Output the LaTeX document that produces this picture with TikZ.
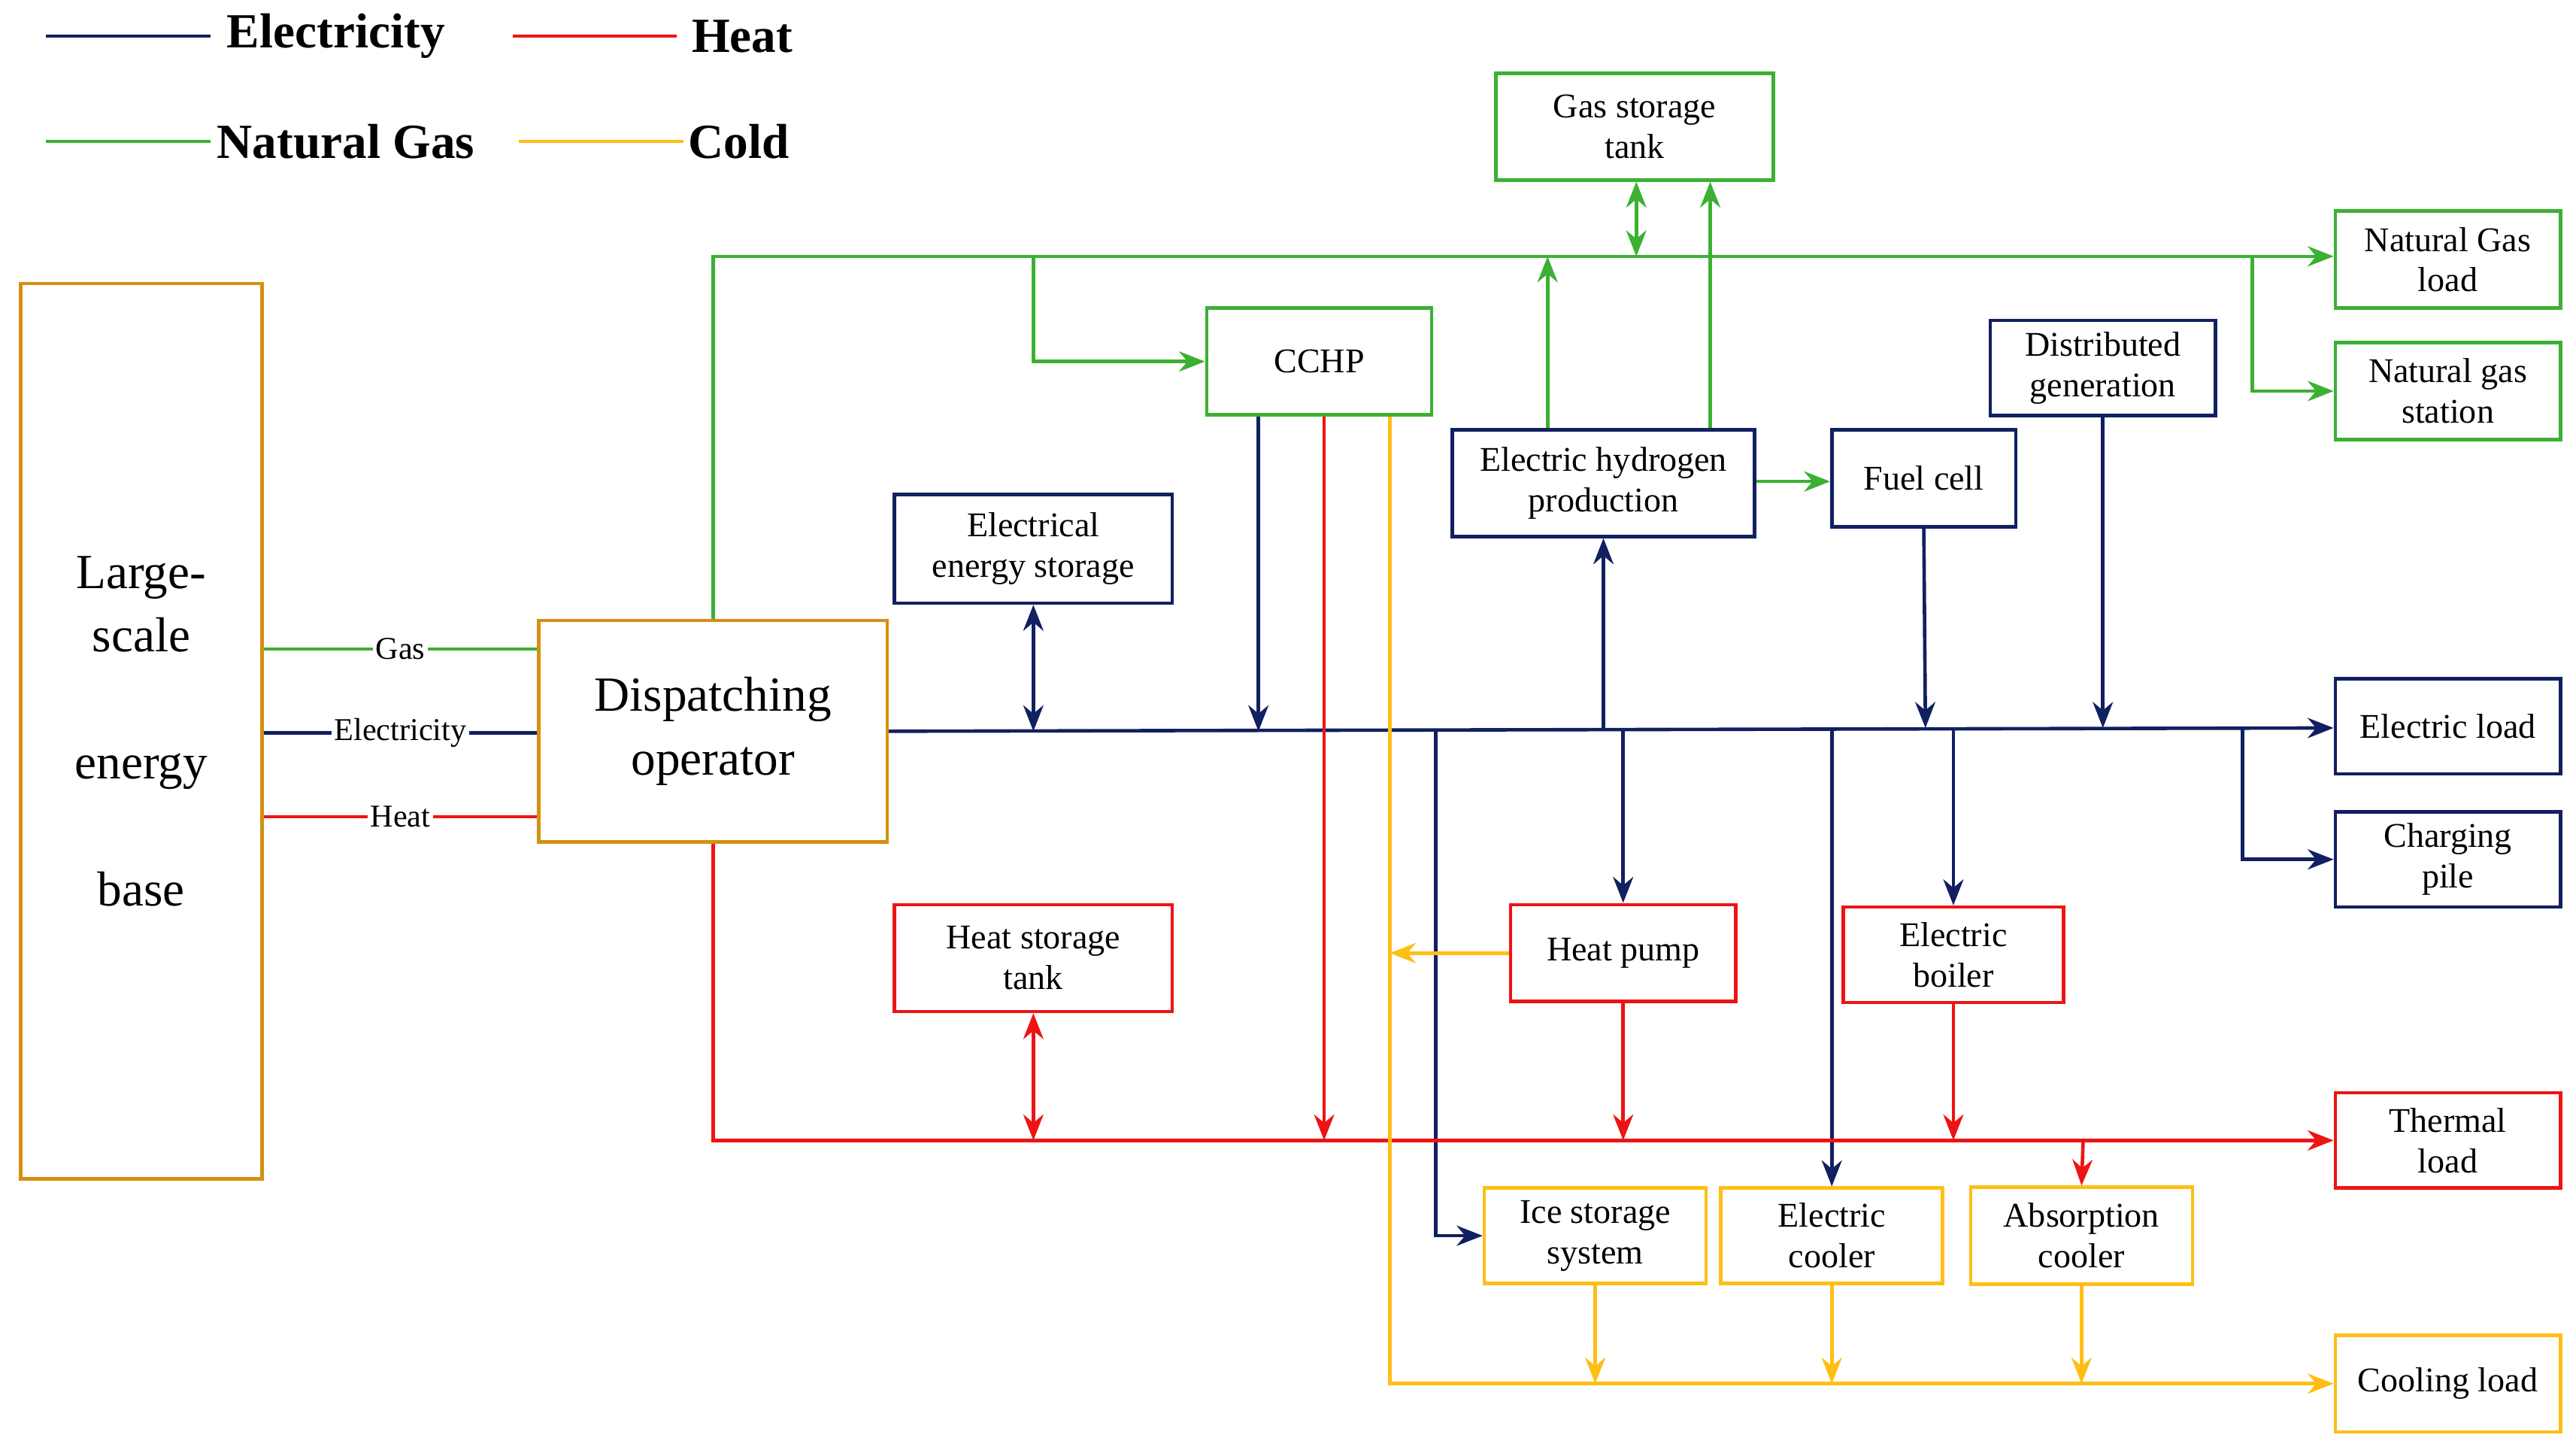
\documentclass[tikz,border=0pt]{standalone}
\usepackage{fontspec}
\setmainfont{Liberation Serif}
\usetikzlibrary{arrows.meta,positioning}
\definecolor{elec}{RGB}{16,32,96}
\definecolor{heat}{RGB}{238,20,20}
\definecolor{gas}{RGB}{60,176,50}
\definecolor{cold}{RGB}{255,190,20}
\definecolor{hub}{RGB}{212,144,16}
\tikzset{
  box/.style={draw,line width=1.2pt,align=center,font=\fontsize{12}{14}\selectfont,inner sep=2pt},
  ebox/.style={box,draw=elec},
  hbox/.style={box,draw=heat},
  gbox/.style={box,draw=gas},
  cbox/.style={box,draw=cold},
  ln/.style={line width=1.2pt},
  ar/.style={ln,-{Stealth[length=9pt,width=7pt]}},
  dar/.style={ln,{Stealth[length=9pt,width=7pt]}-{Stealth[length=9pt,width=7pt]}},
  lab/.style={fill=white,text=black,inner sep=1pt,font=\fontsize{11}{12}\selectfont},
  leg/.style={font=\bfseries\fontsize{17}{19}\selectfont,inner sep=1pt}
}
\begin{document}
\begin{tikzpicture}[x=0.02cm,y=-0.02cm]
\useasboundingbox (0,0) rectangle (1568,882);
% legend
\draw[ln,elec] (28,22) -- (128,22); \node[leg,anchor=west] (lE) at (136,22) {Electricity};
\draw[ln,heat] (312,22) -- (412,22); \node[leg,anchor=west] (lH) at (419,22) {Heat};
\draw[ln,gas] (28,86) -- (128,86); \node[leg,anchor=west] (lG) at (130,86) {Natural Gas};
\draw[ln,cold] (316,86) -- (416,86); \node[leg,anchor=west] (lC) at (417,86) {Cold};
% main blocks
\node[box,draw=hub,minimum width=147*0.02cm,minimum height=545*0.02cm,font=\fontsize{17}{22}\selectfont] (base) at (86,445) {Large-\\scale\\[22pt]energy\\[22pt]base};
\node[box,draw=hub,minimum width=212*0.02cm,minimum height=135*0.02cm,font=\fontsize{17}{22}\selectfont] (disp) at (434,445) {Dispatching\\operator};
% devices
\node[gbox,minimum width=3.38cm,minimum height=1.3cm] (gst) at (995,77) {Gas storage\\tank};
\node[gbox,minimum width=2.74cm,minimum height=1.3cm] (cchp) at (803,220) {CCHP};
\node[ebox,minimum width=3.68cm,minimum height=1.3cm] (ehp) at (976,294) {Electric hydrogen\\production};
\node[ebox,minimum width=2.24cm,minimum height=1.18cm] (fc) at (1171,291) {Fuel cell};
\node[ebox,minimum width=2.74cm,minimum height=1.16cm] (dg) at (1280,224) {Distributed\\generation};
\node[ebox,minimum width=3.38cm,minimum height=1.32cm] (ees) at (629,334) {Electrical\\energy storage};
\node[hbox,minimum width=3.38cm,minimum height=1.3cm] (hst) at (629,583) {Heat storage\\tank};
\node[hbox,minimum width=2.74cm,minimum height=1.18cm] (hp) at (988,580) {Heat pump};
\node[hbox,minimum width=2.68cm,minimum height=1.16cm] (eb) at (1189,581) {Electric\\boiler};
\node[cbox,minimum width=2.7cm,minimum height=1.16cm] (ice) at (971,752) {Ice storage\\system};
\node[cbox,minimum width=2.7cm,minimum height=1.16cm] (ec) at (1115,752) {Electric\\cooler};
\node[cbox,minimum width=2.7cm,minimum height=1.18cm] (ac) at (1267,752) {Absorption\\cooler};
% loads
\node[gbox,minimum width=2.74cm,minimum height=1.18cm] (ngl) at (1490,158) {Natural Gas\\load};
\node[gbox,minimum width=2.74cm,minimum height=1.18cm] (ngs) at (1490,238) {Natural gas\\station};
\node[ebox,minimum width=2.74cm,minimum height=1.16cm] (el) at (1490,442) {Electric load};
\node[ebox,minimum width=2.74cm,minimum height=1.16cm] (cp) at (1490,523) {Charging\\pile};
\node[hbox,minimum width=2.74cm,minimum height=1.16cm] (tl) at (1490,694) {Thermal\\load};
\node[cbox,minimum width=2.74cm,minimum height=1.18cm] (cl) at (1490,842) {Cooling load};
% base to operator
\draw[ln,gas] (base.east|-0,395) -- node[lab] {Gas} (disp.west|-0,395);
\draw[ln,elec] (base.east|-0,446) -- node[lab] {Electricity} (disp.west|-0,446);
\draw[ln,heat] (base.east|-0,497) -- node[lab] {Heat} (disp.west|-0,497);
% gas network
\draw[ar,gas] (disp.north) |- (ngl.west|-0,156);
\draw[ar,gas] (629,156) |- (cchp.west);
\draw[ar,gas] (ehp.north-|942,0) -- (942,156);
\draw[ar,gas] (ehp.north-|1041,0) -- (gst.south-|1041,0);
\draw[dar,gas] (gst.south-|996,0) -- (996,156);
\draw[ar,gas] (1371,156) |- (ngs.west);
\draw[ar,gas] (ehp.east|-0,293) -- (fc.west|-0,293);
% electricity network
\draw[ar,elec] (disp.east) -- (el.west|-0,443);
\draw[dar,elec] (ees.south) -- (629,445);
\draw[ar,elec] (cchp.south-|766,0) -- (766,445);
\draw[ar,elec] (976,443) -- (ehp.south);
\draw[ar,elec] (fc.south) -- (1172,443);
\draw[ar,elec] (dg.south) -- (1280,443);
\draw[ar,elec] (1365,443) |- (cp.west);
\draw[ar,elec] (988,444) -- (hp.north);
\draw[ar,elec] (1189,443) -- (eb.north);
\draw[ar,elec] (874,444) |- (ice.west);
\draw[ar,elec] (1115,443) -- (ec.north);
% heat network
\draw[ar,heat] (disp.south) |- (tl.west|-0,694);
\draw[dar,heat] (hst.south) -- (629,694);
\draw[ar,heat] (cchp.south-|806,0) -- (806,694);
\draw[ar,heat] (hp.south) -- (988,694);
\draw[ar,heat] (eb.south) -- (1189,694);
\draw[ar,heat] (1268,694) -- (ac.north);
% cold network
\draw[ar,cold] (cchp.south-|846,0) |- (cl.west);
\draw[ar,cold] (hp.west) -- (846,580);
\draw[ar,cold] (ice.south) -- (971,842);
\draw[ar,cold] (ec.south) -- (1115,842);
\draw[ar,cold] (ac.south) -- (1267,842);
\end{tikzpicture}
\end{document}
